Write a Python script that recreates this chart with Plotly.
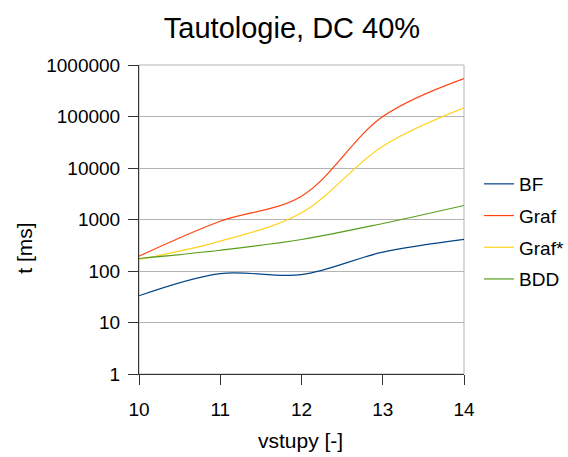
import plotly.graph_objects as go

inputs = [10, 11, 12, 13, 14]
bf = [33, 89, 85, 232, 410]
graf = [194, 927, 2840, 100000, 547000]
graf_star = [167, 379, 1350, 26500, 147500]
bdd = [175, 253, 409, 836, 1870]

series = [("BF", bf, "#004586"), ("Graf", graf, "#ff420e"),
          ("Graf*", graf_star, "#ffd320"), ("BDD", bdd, "#579d1c")]

y_ticks = [1, 10, 100, 1000, 10000, 100000, 1000000]
y_ticktext = [str(v) for v in y_ticks]

W, H = 568, 457
fig = go.Figure()
for name, vals, col in series:
    fig.add_trace(go.Scatter(x=inputs, y=vals, name=name, mode="lines", legendgroup=name,
                             line=dict(color=col, width=1.2, shape="spline", smoothing=1)))

font = "Liberation Sans, Arial, sans-serif"
fig.update_layout(
    width=W, height=H,
    margin=dict(l=139, r=104, t=65, b=83, autoexpand=False),
    paper_bgcolor="white", plot_bgcolor="white",
    font=dict(family=font, size=19, color="black"),
    title=dict(text="Tautologie, DC 40%", xref="container", x=292 / W, xanchor="center",
               yref="container", y=1 - 28 / H, yanchor="middle",
               font=dict(size=29, family=font, color="black")),
    showlegend=True,
    legend=dict(xref="container", x=479 / W, xanchor="left",
                yref="container", y=1 - 231.5 / H, yanchor="middle", itemwidth=30,
                font=dict(size=19), tracegroupgap=4, bgcolor="rgba(0,0,0,0)"),
    xaxis=dict(range=[10, 14], tickvals=inputs, ticks="outside", ticklen=10, tickcolor="#333",
               showline=True, linecolor="#333", linewidth=1, showgrid=False, zeroline=False,
               ticklabelstandoff=8),
    yaxis=dict(type="log", range=[0, 6], tickvals=y_ticks, ticktext=y_ticktext,
               ticks="outside", ticklen=10, tickcolor="#333",
               showline=True, linecolor="#333", linewidth=1,
               showgrid=True, gridcolor="#b3b3b3", gridwidth=1, zeroline=False,
               ticklabelstandoff=4),
)
fig.add_shape(type="rect", xref="paper", yref="paper", x0=0, x1=1, y0=0, y1=1,
              line=dict(color="#b3b3b3", width=1), layer="below")
fig.add_annotation(text="vstupy [-]", xref="paper", yref="paper", x=(300 - 139) / 325,
                   y=-(441 - 374.5) / 309.5, xanchor="center", yanchor="middle",
                   showarrow=False, font=dict(size=21, family=font, color="black"))
fig.add_annotation(text="t [ms]", xref="paper", yref="paper", x=-(139 - 25) / 325,
                   y=(374.5 - 249) / 309.5, xanchor="center", yanchor="middle", textangle=-90,
                   showarrow=False, font=dict(size=21, family=font, color="black"))
fig.write_html("out.html")
